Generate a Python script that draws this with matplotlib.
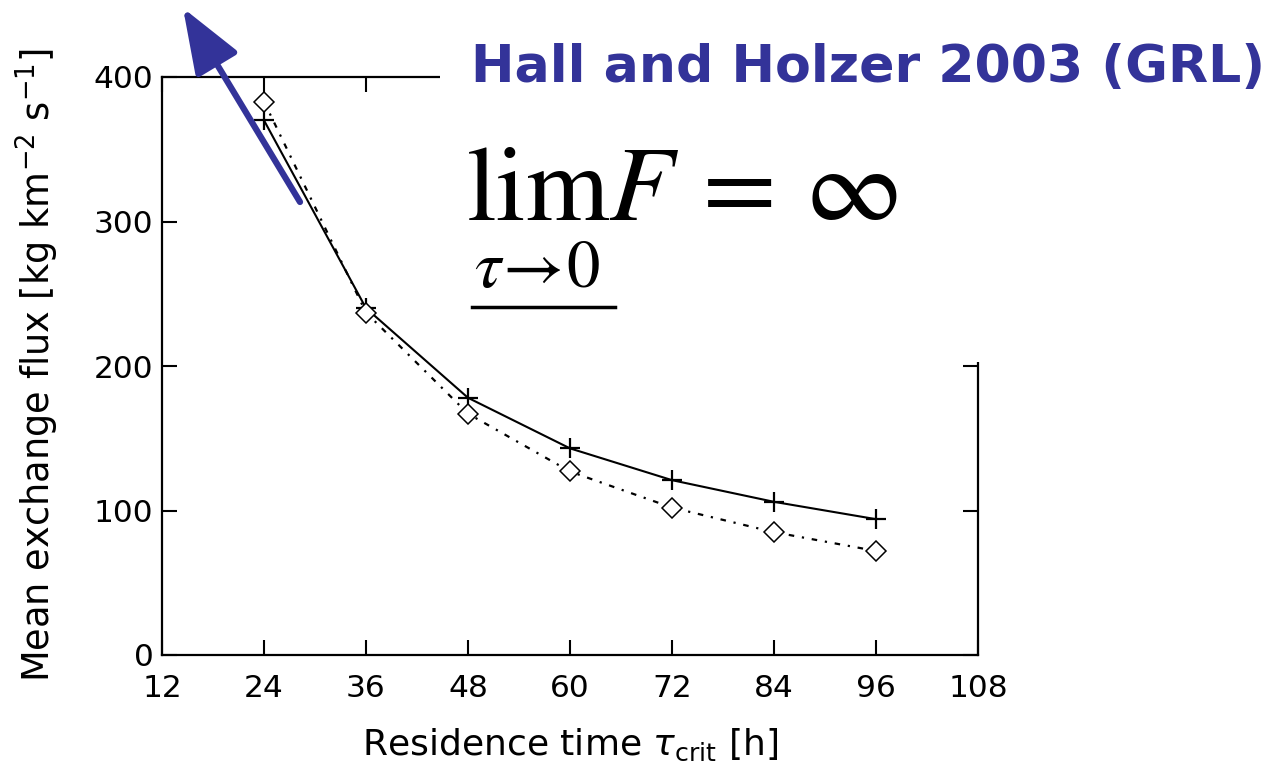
import matplotlib
matplotlib.use("Agg")
import matplotlib.pyplot as plt
from matplotlib.patches import Rectangle, FancyArrowPatch
from matplotlib.lines import Line2D

# data
tau = [24, 36, 48, 60, 72, 84, 96]
flux_plus = [370, 240, 178, 143, 121, 106, 94]
flux_diamond = [383, 237, 167, 127, 102, 85, 72]
xticks = [12, 24, 36, 48, 60, 72, 84, 96, 108]
yticks = [0, 100, 200, 300, 400]
title = "Hall and Holzer 2003 (GRL)"
navy = "#333399"

W, H = 1285, 768
fig = plt.figure(figsize=(W / 100, H / 100), dpi=100)
fx = lambda px: px / W
fy = lambda py: 1 - py / H

ax = fig.add_axes([fx(162), fy(655), fx(978) - fx(162), fy(77) - fy(655)])
ax.plot(tau, flux_plus, color="black", lw=1.5, marker="+", ms=15, mew=1.6, zorder=3)
ax.plot(tau, flux_diamond, color="black", lw=1.6, ls=(0, (2.5, 3.5, 1, 3.5)),
        marker="D", ms=10, mfc="white", mec="black", mew=1.1, zorder=3)

ax.set_xlim(12, 108)
ax.set_ylim(0, 400)
ax.set_xticks(xticks)
ax.set_yticks(yticks)
ax.tick_params(direction="in", length=11, width=1.5, top=True, right=True,
               labelsize=22.5, colors="black")
ax.tick_params(axis="x", pad=14)
ax.tick_params(axis="y", pad=6)
for s in ax.spines.values():
    s.set_linewidth(1.6)
ax.set_xlabel(r"Residence time $\tau_{\mathrm{crit}}$ [h]", fontsize=26)
ax.set_ylabel(r"Mean exchange flux [kg km$^{-2}$ s$^{-1}$]", fontsize=26.5)
ax.xaxis.set_label_coords(0.5, -0.156)
ax.yaxis.set_label_coords(-0.153, 0.502)
ax.xaxis.label.set_va("center")
ax.yaxis.label.set_va("center")

# white cover over upper-right of the plot
fig.patches.append(Rectangle((fx(440), fy(362)), fx(1000) - fx(440), fy(0) - fy(362),
                             transform=fig.transFigure, facecolor="white",
                             edgecolor="none", zorder=5))

# title
fig.text(fx(868), fy(68), title, color=navy, fontsize=37.5, fontweight="bold",
         ha="center", va="center", zorder=10)

# formula
fig.text(fx(466), fy(190), r"$\mathrm{lim}F\,=\,\infty$", math_fontfamily="stix",
         fontsize=77, ha="left", va="center", zorder=10)
fig.text(fx(474), fy(268), r"$\tau\!\rightarrow\!0$", math_fontfamily="stix",
         fontsize=48, ha="left", va="center", zorder=10)
fig.add_artist(Line2D([fx(472), fx(615)], [fy(307), fy(307)], color="black",
                      lw=2.5, transform=fig.transFigure, zorder=10))

# arrow
fig.add_artist(FancyArrowPatch(
    (fx(300), fy(202)), (fx(183), fy(8)), transform=fig.transFigure,
    arrowstyle="-|>,head_length=2.0,head_width=0.75", mutation_scale=20,
    shrinkA=0, shrinkB=0, color=navy, lw=4.5, zorder=11))

fig.savefig("out.png", dpi=100)
